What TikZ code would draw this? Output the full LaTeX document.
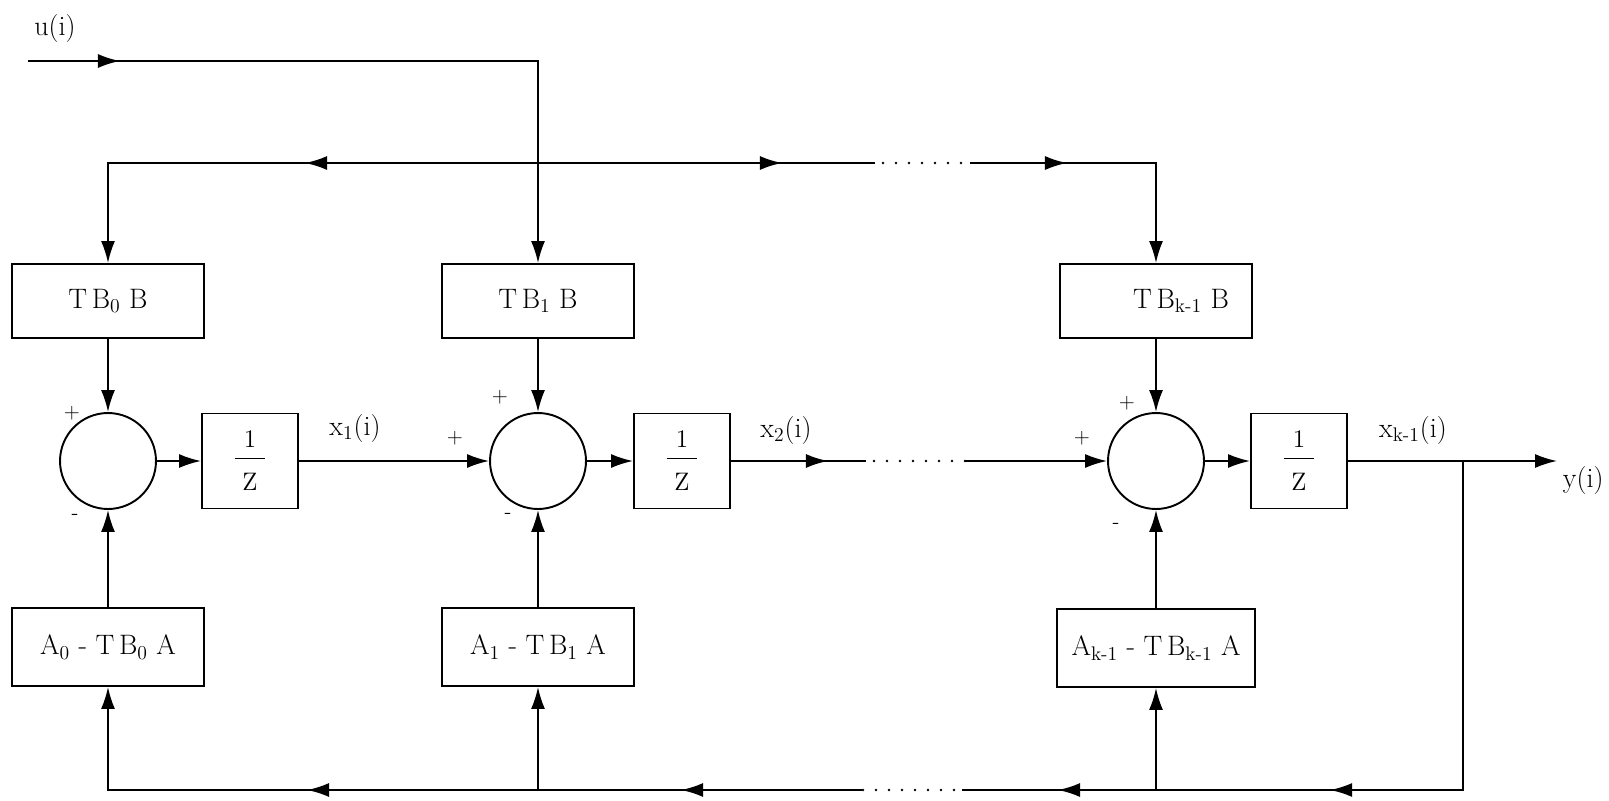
\documentclass[tikz,border=0pt]{standalone}
\usepackage{amsmath}
\usepackage{tikz}
\usetikzlibrary{arrows.meta,decorations.markings}

\begin{document}
\begin{tikzpicture}[x=0.02cm,y=-0.02cm,line width=1.1pt,font=\fontsize{16}{19}\selectfont,
  >={Latex[length=4.4mm,width=2.8mm]},
  gain/.style={draw,rectangle,inner sep=0pt,minimum width=3.84cm,minimum height=1.48cm},
  fbgain/.style={gain,minimum height=1.56cm},
  delay/.style={draw,rectangle,inner sep=0pt,minimum width=1.92cm,minimum height=1.9cm,font=\fontsize{15}{18}\selectfont},
  summer/.style={draw,circle,inner sep=0pt,minimum size=1.92cm},
  sgn/.style={inner sep=1pt,font=\fontsize{12}{14}\selectfont},
  dotline/.style={line cap=round,line width=1.6pt,dash pattern=on 0pt off 0.26cm,dash phase=0.1cm},
  midarr/.style={postaction={decorate},decoration={markings,mark=at position #1 with {\arrow{>}}}}]
\useasboundingbox (0,0) rectangle (1609,801);
\node[gain] (tb0) at (108,301) {T\,B\textsubscript{0} B};
\node[gain] (tb1) at (538,301) {T\,B\textsubscript{1} B};
\node[gain] (tbk) at (1156,301) {\hspace*{1cm}T\,B\textsubscript{k-1} B};
\node[summer] (s0) at (108,461) {};
\node[summer] (s1) at (538,461) {};
\node[summer] (s2) at (1156,461) {};
\node[delay] (z0) at (250,461) {$\dfrac{1}{\rule{0pt}{16pt}\hspace{0.3em}\mathrm{Z}\hspace{0.3em}}$};
\node[delay] (z1) at (682,461) {$\dfrac{1}{\rule{0pt}{16pt}\hspace{0.3em}\mathrm{Z}\hspace{0.3em}}$};
\node[delay] (zk) at (1299,461) {$\dfrac{1}{\rule{0pt}{16pt}\hspace{0.3em}\mathrm{Z}\hspace{0.3em}}$};
\node[fbgain] (a0) at (108,647) {A\textsubscript{0} - T\,B\textsubscript{0} A};
\node[fbgain] (a1) at (538,647) {A\textsubscript{1} - T\,B\textsubscript{1} A};
\node[fbgain,minimum width=3.96cm] (ak) at (1156,648) {A\textsubscript{k-1} - T\,B\textsubscript{k-1} A};
\node (u) at (55,28) {u(i)};
\node (x1) at (355,428) {x\textsubscript{1}(i)};
\node (x2) at (786,430) {x\textsubscript{2}(i)};
\node (xk) at (1413,430) {x\textsubscript{k-1}(i)};
\node[anchor=west,inner sep=0pt] (y) at (1562,480) {y(i)};
\node[sgn] (p0) at (72,413) {+};
\node[sgn] (m0) at (75,517) {-};
\node[sgn] (p1) at (500,397) {+};
\node[sgn] (q1) at (455,438) {+};
\node[sgn] (m1) at (508,516) {-};
\node[sgn] (p2) at (1127,403) {+};
\node[sgn] (q2) at (1082,438) {+};
\node[sgn] (m2) at (1116,526) {-};
\coordinate (uin) at (28,61);
\coordinate (uc) at (538,61);
\coordinate (tj) at (538,163);
\coordinate (tl) at (108,163);
\coordinate (td1) at (875,163);
\coordinate (td2) at (970,163);
\coordinate (tr) at (1156,163);
\coordinate (md1) at (866,461);
\coordinate (md2) at (965,461);
\coordinate (yo) at (1557,461);
\coordinate (br) at (1463,461);
\coordinate (bc) at (1463,790);
\coordinate (bj2) at (1156,790);
\coordinate (bd2) at (962,790);
\coordinate (bd1) at (862,790);
\coordinate (bj1) at (538,790);
\coordinate (bl) at (108,790);
\draw[->,midarr=1.84cm] (uin) -- (uc) -- (tb1);
\draw[->,midarr=4.66cm] (tj) -- (tl) -- (tb0);
\draw[midarr=4.88cm] (tj) -- (td1);
\draw[dotline] (td1) -- (td2);
\draw[->,midarr=1.94cm] (td2) -- (tr) -- (tbk);
\draw[->] (tb0) -- (s0);
\draw[->] (tb1) -- (s1);
\draw[->] (tbk) -- (s2);
\draw[->] (a0) -- (s0);
\draw[->] (a1) -- (s1);
\draw[->] (ak) -- (s2);
\draw[->] (s0) -- (z0);
\draw[->] (z0) -- (s1);
\draw[->] (s1) -- (z1);
\draw[midarr=1.94cm] (z1) -- (md1);
\draw[dotline] (md1) -- (md2);
\draw[->] (md2) -- (s2);
\draw[->] (s2) -- (zk);
\draw[->] (zk) -- (yo);
\draw[midarr=9.24cm] (br) -- (bc) -- (bj2);
\draw[->] (bj2) -- (ak);
\draw[midarr=1.96cm] (bj2) -- (bd2);
\draw[dotline] (bd2) -- (bd1);
\draw[midarr=3.62cm] (bd1) -- (bj1);
\draw[->] (bj1) -- (a1);
\draw[->,midarr=4.62cm] (bj1) -- (bl) -- (a0);
\end{tikzpicture}
\end{document}
